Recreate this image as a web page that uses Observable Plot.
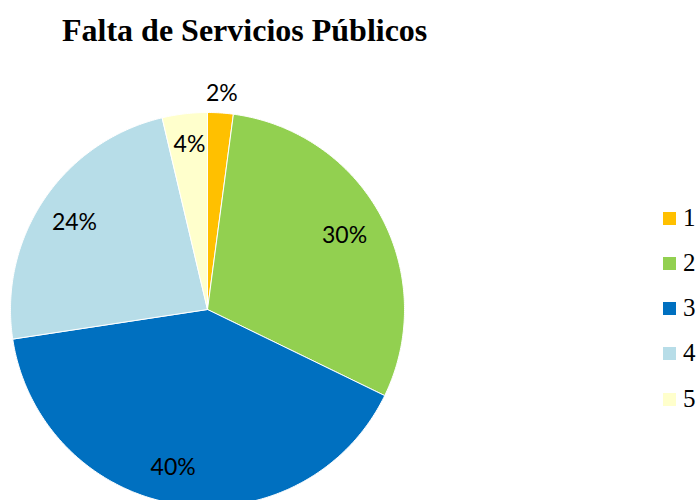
<!DOCTYPE html>
<html>
<head>
<meta charset="utf-8">
<script src="https://cdn.jsdelivr.net/npm/d3@7"></script>
<script src="https://cdn.jsdelivr.net/npm/@observablehq/plot@0.6"></script>
<style>
  html, body { margin: 0; padding: 0; background: #fff; }
  #wrap { position: relative; width: 699px; height: 500px; overflow: hidden; }
  #title { position: absolute; left: 62px; top: 10px; font-family: "Liberation Serif", "Times New Roman", serif; font-weight: bold; font-size: 32px; line-height: 40px; color: #000; white-space: nowrap; }
  #chart { position: absolute; left: 0; top: 60px; }
  #legend { position: absolute; left: 663px; top: 0; font-family: "Liberation Serif", "Times New Roman", serif; font-size: 25px; }
  .item { position: absolute; left: 0; display: flex; align-items: center; height: 26px; }
  .sw { width: 13px; height: 13px; margin-right: 7px; }
</style>
</head>
<body>
<div id="wrap">
  <div id="title">Falta de Servicios Públicos</div>
  <div id="chart"></div>
  <div id="legend"></div>
</div>
<script>
const categories = ["1", "2", "3", "4", "5"];
const values = [2.1, 30.1, 40.4, 23.7, 3.7];
const colors = ["#FFC000", "#92D050", "#0070C0", "#B7DDE8", "#FFFFCC"];

const W = 699, H = 440;
const cx = 207, cy = 249, R = 197;

// build slice polygons from the data (clockwise from 12 o'clock)
const total = d3.sum(values);
let acc = 0;
const slices = values.map((v, i) => {
  const a0 = acc / total * 2 * Math.PI;
  acc += v;
  const a1 = acc / total * 2 * Math.PI;
  return { cat: categories[i], value: v, a0, a1 };
});
const polys = [];
for (const s of slices) {
  polys.push({ cat: s.cat, x: 0, y: 0 });
  const n = Math.max(2, Math.ceil((s.a1 - s.a0) / 0.01));
  for (let k = 0; k <= n; k++) {
    const a = s.a0 + (s.a1 - s.a0) * k / n;
    polys.push({ cat: s.cat, x: Math.sin(a), y: Math.cos(a) });
  }
  polys.push({ cat: s.cat, x: 0, y: 0 });
}
const labelR = [1.1, 0.79, 0.79, 0.79, 0.79];
const labelDx = [0, 0, -11, -4, 0];
const labelDy = [0, 0, 4, 0, -10];
const labels = slices.map((s, i) => {
  const m = (s.a0 + s.a1) / 2;
  return { cat: s.cat, x: Math.sin(m) * labelR[i], y: Math.cos(m) * labelR[i],
           text: Math.round(s.value / total * 100) + "%", dx: labelDx[i], dy: labelDy[i] };
});

const plot = Plot.plot({
  width: W, height: H,
  margin: 0,
  x: { domain: [-cx / R, (W - cx) / R], range: [0, W], axis: null },
  y: { domain: [-(H - cy) / R, cy / R], range: [H, 0], axis: null },
  color: { domain: categories, range: colors },
  style: { background: "transparent" },
  marks: [
    Plot.line(polys, { x: "x", y: "y", z: "cat", fill: "cat", stroke: "#ffffff", strokeWidth: 1, curve: "linear" }),
    ...labels.map(l => Plot.text([l], { x: "x", y: "y", text: "text", dx: l.dx, dy: l.dy,
      fontFamily: "Lato, 'Open Sans', sans-serif", fontSize: 23, fill: "#000" }))
  ]
});
document.getElementById("chart").appendChild(plot);

const legendTops = [205, 250, 295, 340, 386];
const leg = document.getElementById("legend");
categories.forEach((c, i) => {
  const it = document.createElement("div");
  it.className = "item";
  it.style.top = legendTops[i] + "px";
  it.innerHTML = `<div class="sw" style="background:${colors[i]}"></div><span>${c}</span>`;
  leg.appendChild(it);
});
</script>
</body>
</html>
